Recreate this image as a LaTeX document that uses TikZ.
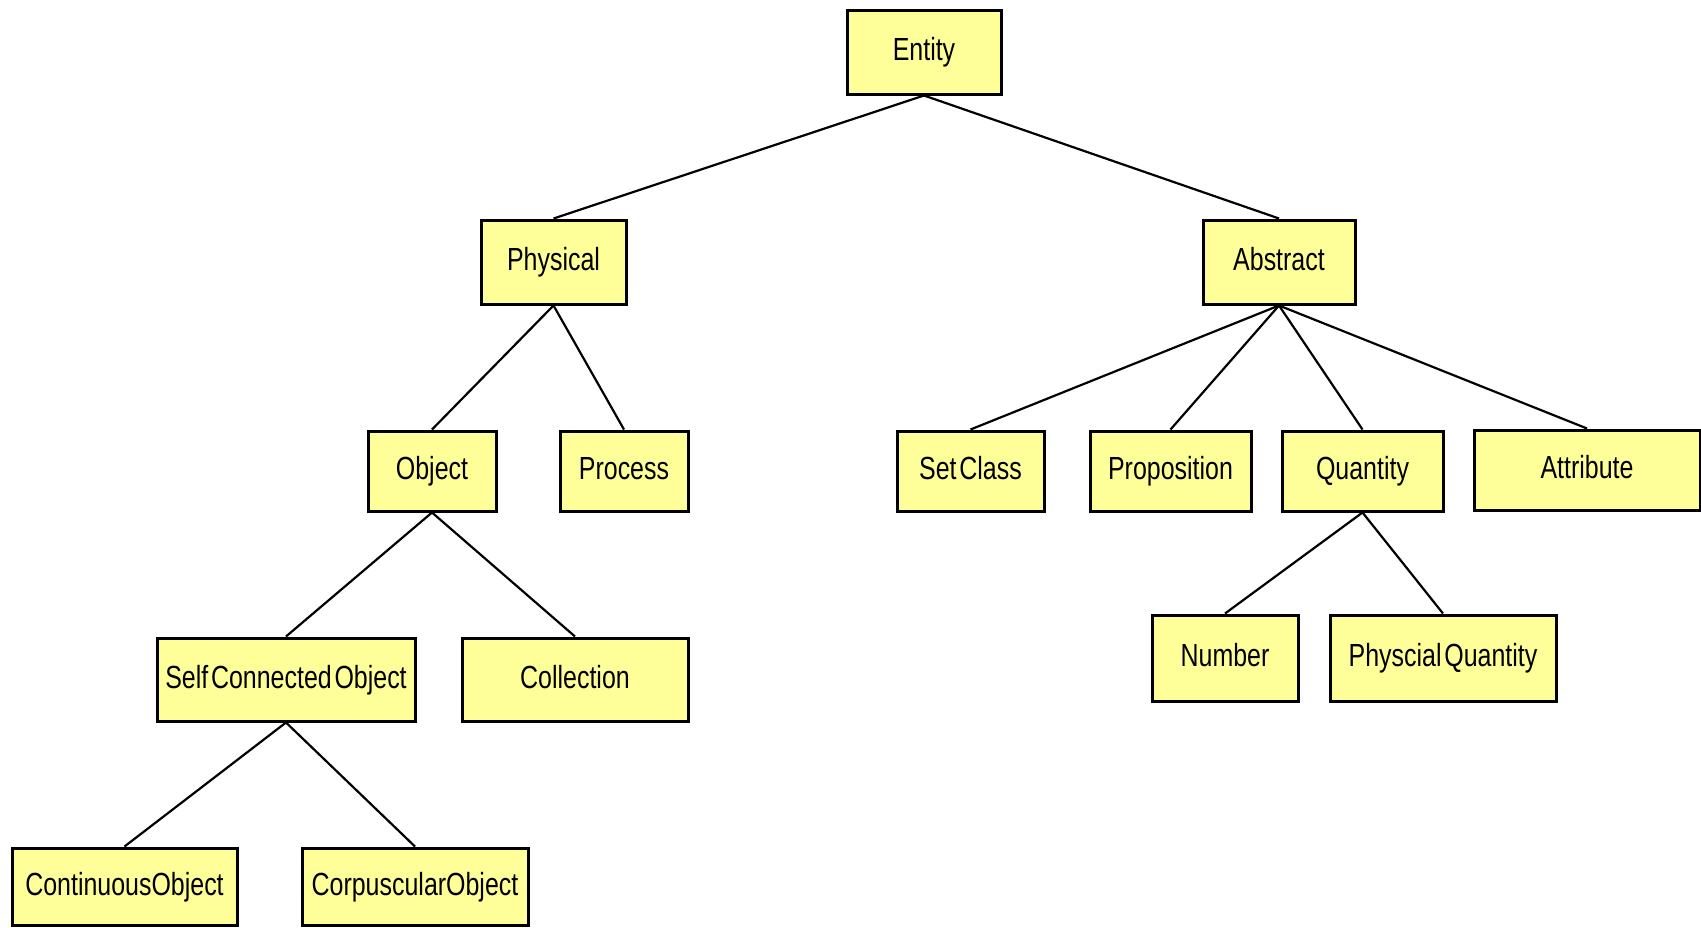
\documentclass[tikz,border=0pt]{standalone}
\usepackage{fontspec}
\setmainfont{Liberation Sans}[FakeStretch=0.78,WordSpace=0.4]
\definecolor{boxfill}{HTML}{FFFF99}
\begin{document}
\begin{tikzpicture}[x=0.5pt,y=-0.5pt,
  box/.style={draw=black,fill=boxfill,line width=1.5pt,rectangle,inner sep=0pt,
    text height=11.5pt,text depth=3pt,
    font=\fontsize{16}{18}\selectfont,text=black},
  link/.style={draw=black,line width=1.1pt}]
\useasboundingbox (0,0) rectangle (1701,927);
\node[box,minimum width=77pt,minimum height=42pt] (entity) at (924,52) {Entity};
\node[box,minimum width=72.5pt,minimum height=42pt] (physical) at (553.5,262) {Physical};
\node[box,minimum width=76pt,minimum height=42pt] (abstract) at (1279,262) {Abstract};
\node[box,minimum width=64pt,minimum height=40pt] (object) at (432,471) {Object};
\node[box,minimum width=64pt,minimum height=40pt] (process) at (624,471) {Process};
\node[box,minimum width=73.5pt,minimum height=40pt] (setclass) at (970.5,471) {Set Class};
\node[box,minimum width=80.5pt,minimum height=40pt] (proposition) at (1170.5,471) {Proposition};
\node[box,minimum width=80.5pt,minimum height=40pt] (quantity) at (1362.5,471) {Quantity};
\node[box,minimum width=113pt,minimum height=40pt] (attribute) at (1587,470) {Attribute};
\node[box,minimum width=129pt,minimum height=41.5pt] (sco) at (286,679.5) {Self Connected Object};
\node[box,minimum width=113pt,minimum height=41.5pt] (collection) at (575,679.5) {Collection};
\node[box,minimum width=73pt,minimum height=43pt] (number) at (1225,658) {Number};
\node[box,minimum width=113pt,minimum height=43pt] (pq) at (1443,658) {Physcial Quantity};
\node[box,minimum width=112.5pt,minimum height=38.5pt] (continuous) at (124.5,886.5) {ContinuousObject};
\node[box,minimum width=113pt,minimum height=38.5pt] (corpuscular) at (415,886.5) {CorpuscularObject};
\draw[link] (entity.south) -- (physical.north);
\draw[link] (entity.south) -- (abstract.north);
\draw[link] (physical.south) -- (object.north);
\draw[link] (physical.south) -- (process.north);
\draw[link] (abstract.south) -- (setclass.north);
\draw[link] (abstract.south) -- (proposition.north);
\draw[link] (abstract.south) -- (quantity.north);
\draw[link] (abstract.south) -- (attribute.north);
\draw[link] (object.south) -- (sco.north);
\draw[link] (object.south) -- (collection.north);
\draw[link] (quantity.south) -- (number.north);
\draw[link] (quantity.south) -- (pq.north);
\draw[link] (sco.south) -- (continuous.north);
\draw[link] (sco.south) -- (corpuscular.north);
\end{tikzpicture}
\end{document}
